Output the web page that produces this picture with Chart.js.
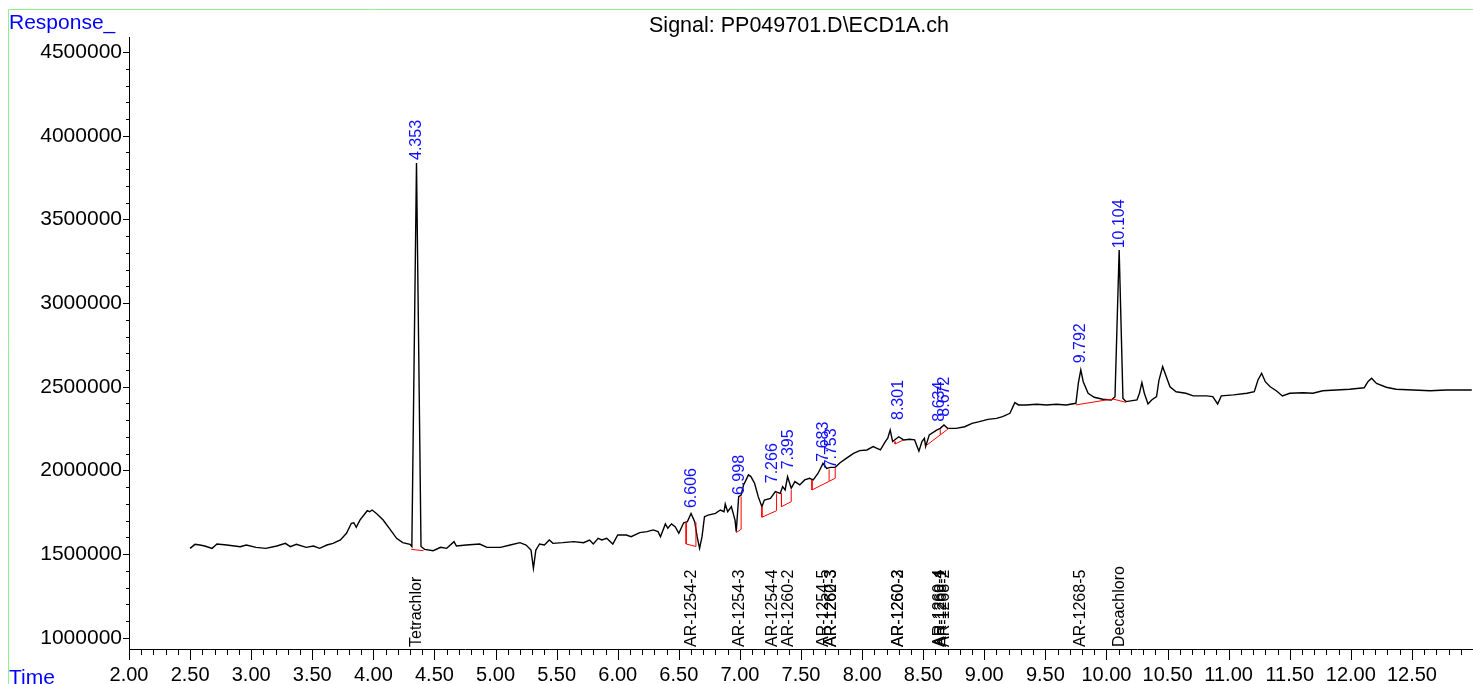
<!DOCTYPE html>
<html>
<head>
<meta charset="utf-8">
<script src="https://cdn.jsdelivr.net/npm/chart.js"></script>
<style>
body{margin:0;background:#fff;}
canvas{display:block;}
</style>
</head>
<body>
<canvas id="chroma" width="1473" height="684"></canvas>
<script>
// signal trace (time in min, response)
var times = [2.50,2.54,2.58,2.62,2.68,2.72,2.80,2.91,2.96,3.04,3.12,3.21,3.28,3.32,3.37,3.45,3.51,3.56,3.62,3.67,
	3.73,3.78,3.82,3.84,3.86,3.89,3.95,3.97,3.99,4.03,4.08,4.14,4.19,4.24,4.30,4.315,4.353,4.39,4.42,4.49,
	4.55,4.60,4.66,4.68,4.76,4.87,4.93,5.04,5.12,5.20,5.25,5.29,5.31,5.33,5.36,5.40,5.44,5.47,5.55,5.64,
	5.72,5.77,5.80,5.84,5.87,5.91,5.96,6.00,6.07,6.11,6.18,6.24,6.29,6.33,6.35,6.39,6.41,6.44,6.47,6.50,
	6.54,6.57,6.60,6.63,6.65,6.67,6.69,6.71,6.74,6.80,6.84,6.87,6.88,6.90,6.93,6.96,6.97,6.99,7.01,7.03,
	7.07,7.09,7.12,7.15,7.18,7.20,7.25,7.29,7.33,7.35,7.37,7.39,7.42,7.45,7.49,7.53,7.57,7.60,7.64,7.68,
	7.71,7.74,7.78,7.82,7.87,7.93,7.98,8.04,8.09,8.15,8.19,8.21,8.23,8.25,8.30,8.34,8.39,8.43,8.465,8.49,
	8.51,8.52,8.55,8.61,8.64,8.67,8.70,8.77,8.84,8.90,8.96,9.03,9.10,9.15,9.21,9.25,9.28,9.34,9.43,9.51,
	9.59,9.67,9.75,9.77,9.79,9.81,9.85,9.90,9.97,10.04,10.07,10.104,10.135,10.16,10.25,10.27,10.29,10.31,10.34,10.37,
	10.41,10.43,10.46,10.49,10.52,10.57,10.65,10.71,10.82,10.87,10.91,10.94,11.04,11.15,11.21,11.24,11.27,11.30,11.34,11.39,
	11.44,11.50,11.61,11.69,11.77,11.88,11.99,12.07,12.11,12.14,12.17,12.21,12.29,12.37,12.51,12.65,12.78,12.99];
var resp = [1534000,1558000,1554000,1548000,1534000,1560000,1554000,1544000,1554000,1540000,1534000,1548000,1564000,1544000,1558000,1540000,1548000,1534000,1554000,1564000,
	1584000,1624000,1684000,1687000,1660000,1703000,1759000,1753000,1763000,1739000,1703000,1644000,1594000,1568000,1558000,1545000,3837000,1545000,1528000,1520000,
	1540000,1534000,1574000,1548000,1554000,1560000,1540000,1540000,1554000,1568000,1554000,1524000,1415000,1524000,1560000,1554000,1584000,1564000,1568000,1574000,
	1568000,1584000,1560000,1594000,1584000,1594000,1560000,1614000,1614000,1604000,1628000,1634000,1644000,1634000,1604000,1680000,1654000,1680000,1663000,1624000,
	1687000,1693000,1743000,1693000,1604000,1534000,1604000,1723000,1733000,1743000,1763000,1753000,1799000,1753000,1783000,1703000,1634000,1843000,1853000,1913000,
	1973000,1963000,1923000,1843000,1783000,1823000,1833000,1873000,1863000,1903000,1883000,1962000,1893000,1933000,1913000,1943000,1953000,1943000,1983000,2042000,
	2012000,2018000,2018000,2046000,2072000,2102000,2118000,2122000,2142000,2122000,2172000,2192000,2241000,2172000,2201000,2182000,2186000,2182000,2115000,2172000,
	2192000,2142000,2212000,2241000,2251000,2271000,2251000,2251000,2261000,2281000,2291000,2305000,2311000,2321000,2341000,2405000,2391000,2391000,2395000,2391000,
	2395000,2391000,2401000,2521000,2600000,2530000,2461000,2437000,2425000,2421000,2440000,3317000,2430000,2411000,2421000,2461000,2524000,2461000,2397000,2421000,
	2441000,2540000,2620000,2560000,2500000,2470000,2461000,2445000,2445000,2441000,2397000,2445000,2451000,2461000,2470000,2540000,2580000,2530000,2500000,2476000,
	2445000,2461000,2464000,2461000,2476000,2480000,2485000,2491000,2494000,2530000,2550000,2520000,2497000,2485000,2480000,2476000,2480000,2480000];

// integration baselines (null = break)
var baseTimes = [4.31,4.41,null, 6.56,6.56,6.64,6.64,null, 6.97,7.01,7.01,null, 7.18,7.18,7.30,7.30,null,
	7.34,7.34,7.42,7.42,null, 7.59,7.59,7.78,7.78,null, 7.73,7.73,null, 8.27,8.27,8.34,null,
	8.52,8.71,null, 8.64,8.64,null, 9.75,10.00,10.06,10.16];
var baseResp = [1528000,1520000,null, 1690000,1560000,1545000,1690000,null, 1628000,1648000,1843000,null, 1783000,1720000,1759000,1863000,null,
	1863000,1783000,1813000,1883000,null, 1943000,1883000,1953000,2018000,null, 1937000,2006000,null, 2172000,2158000,2182000,null,
	2146000,2251000,null, 2212000,2246000,null, 2391000,2421000,2425000,2407000];

// peak retention time labels
var peakTimes = [4.353,6.606,6.998,7.266,7.395,7.683,7.753,8.301,8.634,8.672,9.792,10.104];
var peakLabelResp = [3855000,1775000,1853000,1923000,2006000,2052000,2012000,2301000,2291000,2321000,2640000,3327000];

// compound names along the bottom
var compNames = ['Tetrachlor','AR-1254-2','AR-1254-3','AR-1254-4','AR-1260-2','AR-1254-5','AR-1260-3','AR-1262-3',
	'AR-1260-2','AR-1260-3','AR-1260-4','AR-1268-1','AR-1268-2','AR-1268-5','Decachloro'];
var compTimes = [4.357,6.606,6.998,7.266,7.395,7.683,7.753,7.753,8.301,8.301,8.634,8.652,8.672,9.792,10.104];

var xTickVals = [2.0,2.5,3.0,3.5,4.0,4.5,5.0,5.5,6.0,6.5,7.0,7.5,8.0,8.5,9.0,9.5,10.0,10.5,11.0,11.5,12.0,12.5];
var xTickLabels = ['2.00','2.50','3.00','3.50','4.00','4.50','5.00','5.50','6.00','6.50','7.00','7.50','8.00','8.50','9.00','9.50','10.00','10.50','11.00','11.50','12.00','12.50'];
var yTickVals = [1000000,1500000,2000000,2500000,3000000,3500000,4000000,4500000];
var yTickLabels = ['1000000','1500000','2000000','2500000','3000000','3500000','4000000','4500000'];

var titleText = 'Signal: PP049701.D\\ECD1A.ch';
var FONT = "'Liberation Sans', Arial, sans-serif";

function toPoints(xs, ys){
	var out = [];
	for(var i in xs){
		out.push({x: xs[i], y: ys[i]});
	}
	return out;
}

var decor = {
	id: 'decor',
	beforeDraw: function(chart){
		var ctx = chart.ctx;
		ctx.save();
		ctx.strokeStyle = '#8ef08e';
		ctx.lineWidth = 1;
		ctx.beginPath();
		ctx.moveTo(8.5, 684);
		ctx.lineTo(8.5, 9.5);
		ctx.lineTo(1473, 9.5);
		ctx.stroke();
		ctx.restore();
	},
	afterDraw: function(chart){
		var ctx = chart.ctx;
		var xs = chart.scales.x, ys = chart.scales.y;
		var area = chart.chartArea;
		ctx.save();

		// axis ticks
		ctx.strokeStyle = '#000';
		ctx.lineWidth = 1;
		ctx.beginPath();
		for(var k = 20; k <= 129; k++){
			var px = Math.round(xs.getPixelForValue(k / 10)) + 0.5;
			var len = (k % 5 === 0) ? 11 : 6;
			ctx.moveTo(px, area.bottom);
			ctx.lineTo(px, area.bottom + len);
		}
		for(var m = 10; m <= 45; m++){
			var py = Math.round(ys.getPixelForValue(m * 100000)) + 0.5;
			var l2 = (m % 5 === 0) ? 6 : 3;
			ctx.moveTo(area.left, py);
			ctx.lineTo(area.left - l2, py);
		}
		ctx.stroke();

		// title and axis names
		ctx.fillStyle = '#000';
		ctx.font = '21.5px ' + FONT;
		ctx.textAlign = 'center';
		ctx.textBaseline = 'alphabetic';
		ctx.fillText(titleText, 799, 32);
		ctx.fillStyle = '#0000ff';
		ctx.font = '21px ' + FONT;
		ctx.textAlign = 'left';
		ctx.fillText('Response_', 9, 29);
		ctx.fillText('Time', 9, 684);

		// peak labels
		ctx.font = '16px ' + FONT;
		ctx.textBaseline = 'middle';
		for(var i = 0; i < peakTimes.length; i++){
			ctx.save();
			ctx.translate(xs.getPixelForValue(peakTimes[i]), ys.getPixelForValue(peakLabelResp[i]));
			ctx.rotate(-Math.PI / 2);
			ctx.fillStyle = '#1010ff';
			ctx.fillText(peakTimes[i].toFixed(3), 0, 0);
			ctx.restore();
		}
		// compound labels
		for(var j = 0; j < compNames.length; j++){
			ctx.save();
			ctx.translate(xs.getPixelForValue(compTimes[j]), area.bottom - 2);
			ctx.rotate(-Math.PI / 2);
			ctx.fillStyle = '#000';
			ctx.fillText(compNames[j], 0, 0);
			ctx.restore();
		}
		ctx.restore();
	}
};

var ctx = document.getElementById('chroma');
var chromChart = new Chart(ctx, {
	type: 'line',
	data: {
		datasets: [
			{
				label: 'Signal',
				data: toPoints(times, resp),
				borderColor: '#000000',
				borderWidth: 1.4,
				pointRadius: 0,
				tension: 0,
				order: 1
			},
			{
				label: 'Baseline',
				data: toPoints(baseTimes, baseResp),
				borderColor: '#ff0000',
				borderWidth: 1,
				pointRadius: 0,
				tension: 0,
				spanGaps: false,
				order: 0
			}
		]
	},
	options: {
		responsive: false,
		animation: false,
		layout: {padding: {top: 37, left: 0, right: 0, bottom: 0}},
		plugins: {
			legend: {display: false},
			tooltip: {enabled: false}
		},
		scales: {
			x: {
				type: 'linear',
				min: 2.0,
				max: 13.0,
				grid: {display: false, drawTicks: false},
				border: {display: true, color: '#000', width: 1},
				ticks: {
					autoSkip: false,
					maxRotation: 0,
					padding: 14,
					color: '#000',
					font: {family: FONT, size: 20},
					callback: function(v){ return xTickLabels[xTickVals.indexOf(v)]; }
				},
				afterBuildTicks: function(s){ s.ticks = xTickVals.map(function(v){ return {value: v}; }); },
				afterFit: function(s){ s.height = 35; }
			},
			y: {
				type: 'linear',
				min: 932500,
				max: 4590000,
				grid: {display: false, drawTicks: false},
				border: {display: true, color: '#000', width: 1},
				ticks: {
					padding: 7,
					color: '#000',
					font: {family: FONT, size: 21},
					callback: function(v){ return yTickLabels[yTickVals.indexOf(v)]; }
				},
				afterBuildTicks: function(s){ s.ticks = yTickVals.map(function(v){ return {value: v}; }); },
				afterFit: function(s){ s.width = 129; }
			}
		}
	},
	plugins: [decor]
});
</script>
</body>
</html>
